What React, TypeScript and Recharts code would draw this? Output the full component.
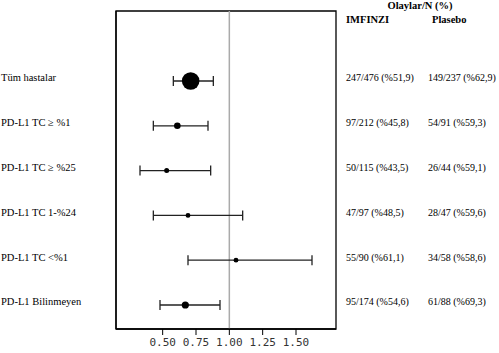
import React from 'react';
import {
  ComposedChart,
  Scatter,
  ErrorBar,
  XAxis,
  YAxis,
  ReferenceLine,
  ReferenceArea,
} from 'recharts';

const subgroups = [
  'Tüm hastalar',
  'PD-L1 TC ≥ %1',
  'PD-L1 TC ≥ %25',
  'PD-L1 TC 1-%24',
  'PD-L1 TC <%1',
  'PD-L1 Bilinmeyen',
];
const hazardRatio = [0.71, 0.61, 0.53, 0.69, 1.05, 0.67];
const ciLower = [0.58, 0.43, 0.33, 0.43, 0.69, 0.48];
const ciUpper = [0.88, 0.84, 0.86, 1.1, 1.62, 0.93];
const markerRadius = [8.8, 3.3, 2.5, 2.4, 2.4, 3.6];

const imfinziEvents = [247, 97, 50, 47, 55, 95];
const imfinziTotal = [476, 212, 115, 97, 90, 174];
const placeboEvents = [149, 54, 26, 28, 34, 61];
const placeboTotal = [237, 91, 44, 47, 58, 88];

const xTicks = [0.5, 0.75, 1.0, 1.25, 1.5];

const fmt = (e: number, n: number) =>
  `${e}/${n} (%${((e / n) * 100).toFixed(1).replace('.', ',')})`;

const data = subgroups.map((name, i) => ({
  row: i,
  name,
  hr: hazardRatio[i],
  err: [hazardRatio[i] - ciLower[i], ciUpper[i] - hazardRatio[i]],
  r: markerRadius[i],
}));

const serif = '"Liberation Serif", "Times New Roman", serif';

const RowTick = (props: any) => {
  const { y, payload } = props;
  const i = payload.value as number;
  const label = { fontFamily: serif, fontSize: 10.5, fill: '#000' };
  const cell = { fontFamily: serif, fontSize: 10, fill: '#000' };
  return (
    <g>
      <text x={1} y={y - 3} dominantBaseline="central" textAnchor="start" style={label}>
        {subgroups[i]}
      </text>
      <text x={346} y={y - 3} dominantBaseline="central" textAnchor="start" style={cell}>
        {fmt(imfinziEvents[i], imfinziTotal[i])}
      </text>
      <text x={428} y={y - 3} dominantBaseline="central" textAnchor="start" style={cell}>
        {fmt(placeboEvents[i], placeboTotal[i])}
      </text>
    </g>
  );
};

const Dot = (props: any) => {
  const { cx, cy, payload } = props;
  return <circle cx={cx} cy={cy} r={payload.r} fill="#000" />;
};

export default function App() {
  const yDomain = [-1.5625, 5.536];
  const head = { fontFamily: serif, fontSize: 10.5, fontWeight: 'bold' as const, lineHeight: '12px' };
  return (
    <div style={{ position: 'absolute', left: 0, top: 0, width: 499, height: 353, background: '#fff' }}>
      <div style={{ ...head, position: 'absolute', left: 360, width: 120, top: 0, textAlign: 'center' }}>
        Olaylar/N (%)
      </div>
      <div style={{ ...head, position: 'absolute', left: 346, top: 14 }}>IMFINZI</div>
      <div style={{ ...head, position: 'absolute', left: 432, top: 14 }}>Plasebo</div>
      <ComposedChart width={499} height={353} data={data} margin={{ top: 11, right: 163, bottom: 0, left: 0 }}>
        <XAxis
          type="number"
          dataKey="hr"
          domain={[0.15, 1.8]}
          ticks={xTicks}
          allowDataOverflow
          height={24}
          tickSize={6}
          tickMargin={3}
          axisLine={{ stroke: '#000', strokeWidth: 1.3 }}
          tickLine={{ stroke: '#000' }}
          tickFormatter={(v: number) => v.toFixed(2)}
          tick={{ fontFamily: '"DejaVu Sans Mono", monospace', fontSize: 11, fill: '#333' }}
        />
        <YAxis
          type="number"
          dataKey="row"
          domain={yDomain}
          reversed
          allowDataOverflow
          ticks={[0, 1, 2, 3, 4, 5]}
          width={116}
          axisLine={{ stroke: '#000', strokeWidth: 1.3 }}
          tickLine={false}
          tick={<RowTick />}
        />
        <ReferenceArea
          x1={0.15}
          x2={1.8}
          y1={yDomain[0]}
          y2={yDomain[1]}
          fill="none"
          fillOpacity={0}
          stroke="#000"
          strokeWidth={1.3}
        />
        <ReferenceLine x={1} stroke="#aaa" strokeWidth={1.5} />
        <Scatter dataKey="hr" shape={<Dot />} isAnimationActive={false}>
          <ErrorBar dataKey="err" direction="x" width={5} stroke="#222" strokeWidth={1.3} />
        </Scatter>
      </ComposedChart>
    </div>
  );
}
